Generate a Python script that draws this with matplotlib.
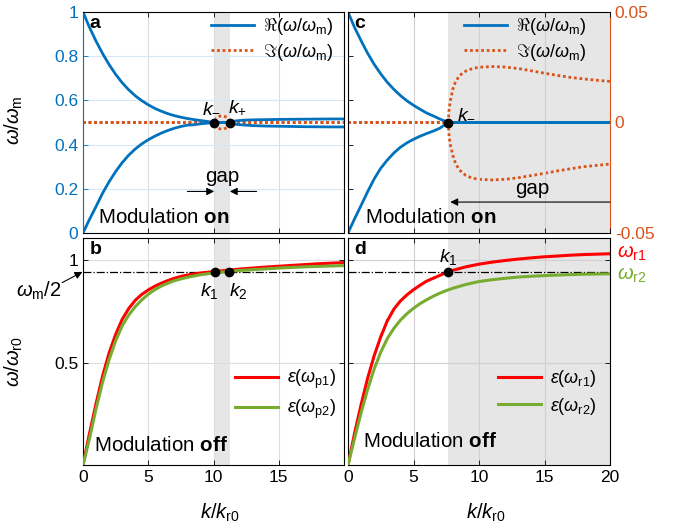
import matplotlib
matplotlib.use('Agg')
import matplotlib.pyplot as plt

plt.rcParams.update({
    'font.family': ['Liberation Sans', 'DejaVu Sans'],
    'mathtext.fontset': 'custom',
    'mathtext.rm': 'Liberation Sans',
    'mathtext.it': 'Liberation Sans:italic',
    'mathtext.bf': 'Liberation Sans:bold',
    'mathtext.sf': 'Liberation Sans',
    'mathtext.fallback': 'cm',
})

BLUE = '#0072BD'
ORANGE = '#D95319'
RED = '#FF0000'
GREEN = '#77AC30'
SHADE = '#E6E6E6'

# ---------------- data ----------------
# panel a (modulation on, gap between k- and k+)
k_a = [0, 0.5, 1.0, 1.5, 2.0, 2.5, 3.0, 3.5, 4.0, 4.5, 5.0, 5.5, 6.0, 6.5, 7.0, 7.5, 8.0, 8.5, 9.0, 9.5, 10.05,
       11.25, 11.4, 11.7, 12.0, 12.5, 13, 14, 15, 16, 17, 18, 19, 20]
re_a_up = [1.0, 0.93, 0.868, 0.812, 0.762, 0.718, 0.68, 0.648, 0.621, 0.599, 0.58, 0.564, 0.551, 0.54, 0.531,
           0.524, 0.518, 0.513, 0.509, 0.505, 0.5,
           0.5, 0.504, 0.507, 0.509, 0.511, 0.512, 0.513, 0.514, 0.5145, 0.515, 0.5155, 0.516, 0.516]
re_a_lo = [0.0, 0.062, 0.12, 0.18, 0.232, 0.278, 0.318, 0.352, 0.38, 0.403, 0.422, 0.438, 0.452, 0.464, 0.474,
           0.482, 0.488, 0.49, 0.494, 0.497, 0.5,
           0.5, 0.496, 0.492, 0.490, 0.488, 0.486, 0.484, 0.483, 0.482, 0.481, 0.4805, 0.480, 0.48]
k_im_a = [0, 10.05, 10.15, 10.3, 10.5, 10.65, 10.8, 11.0, 11.15, 11.25, 20]
im_a_up = [0, 0, 0.0017, 0.0024, 0.0029, 0.003, 0.0029, 0.0024, 0.0017, 0, 0]
im_a_lo = [0, 0, -0.0017, -0.0024, -0.0029, -0.003, -0.0029, -0.0024, -0.0017, 0, 0]
k_marks_a = [10.05, 11.25]
re_marks_a = [0.5, 0.5]

# panel c (modulation on, gap from k- onward)
k_c = [0, 0.5, 1.0, 1.5, 2.0, 2.5, 3.0, 3.5, 4.0, 4.5, 5.0, 5.5, 6.0, 6.5, 7.0, 7.66, 20]
re_c_up = [1.0, 0.93, 0.87, 0.813, 0.763, 0.72, 0.682, 0.65, 0.622, 0.598, 0.578, 0.56, 0.543, 0.53, 0.516,
           0.5, 0.5]
re_c_lo = [0.0, 0.064, 0.125, 0.187, 0.245, 0.293, 0.33, 0.362, 0.388, 0.408, 0.424, 0.438, 0.45, 0.461, 0.474,
           0.5, 0.5]
k_im_c = [0, 7.66, 7.7, 7.8, 8.0, 8.2, 8.5, 9.0, 9.5, 10, 11, 12, 13, 14, 15, 16, 17, 18, 19, 20]
im_c_up = [0, 0, 0.005, 0.0095, 0.015, 0.0183, 0.0212, 0.0233, 0.0244, 0.025, 0.0253, 0.0251, 0.0244,
           0.0234, 0.0223, 0.0213, 0.0204, 0.0197, 0.0191, 0.0186]
im_c_lo = [0, 0, -0.005, -0.0098, -0.0148, -0.0184, -0.0215, -0.024, -0.0252, -0.0257, -0.026, -0.0257,
           -0.025, -0.024, -0.023, -0.0219, -0.0209, -0.02, -0.0194, -0.0188]
k_marks_c = [7.66]
re_marks_c = [0.5]

# panel b (modulation off)
k_b = [0, 0.5, 1.0, 1.5, 2.0, 2.5, 3.0, 3.5, 4.0, 4.5, 5.0, 5.5, 6.0, 6.5, 7.0, 7.5, 8, 9, 10, 11, 12, 13,
       14, 15, 16, 17, 18, 19, 20]
eps_p1 = [0, 0.155, 0.30, 0.435, 0.548, 0.638, 0.712, 0.765, 0.805, 0.834, 0.856, 0.874, 0.889, 0.902, 0.913,
          0.922, 0.929, 0.939, 0.9455, 0.952, 0.958, 0.963, 0.968, 0.972, 0.976, 0.98, 0.984, 0.987, 0.99]
eps_p2 = [0, 0.13, 0.275, 0.405, 0.515, 0.607, 0.68, 0.733, 0.774, 0.807, 0.835, 0.857, 0.875, 0.889, 0.901,
          0.91, 0.918, 0.93, 0.939, 0.9455, 0.951, 0.955, 0.959, 0.963, 0.966, 0.969, 0.971, 0.973, 0.975]
k_marks_b = [10.1, 11.2]
w_marks_b = [0.946, 0.946]

# panel d (modulation off)
k_d = [0, 0.5, 1.0, 1.5, 2.0, 2.5, 3.0, 3.5, 4.0, 4.5, 5.0, 5.5, 6.0, 6.5, 7.0, 7.5, 8, 9, 10, 11, 12, 13,
       14, 15, 16, 17, 18, 19, 20]
eps_r1 = [0, 0.155, 0.295, 0.425, 0.535, 0.627, 0.705, 0.762, 0.802, 0.832, 0.857, 0.879, 0.899, 0.913, 0.927,
          0.941, 0.952, 0.969, 0.982, 0.992, 1.0, 1.007, 1.013, 1.018, 1.022, 1.026, 1.029, 1.031, 1.033]
eps_r2 = [0, 0.13, 0.255, 0.37, 0.47, 0.552, 0.618, 0.668, 0.708, 0.74, 0.766, 0.789, 0.808, 0.825, 0.84,
          0.853, 0.864, 0.883, 0.897, 0.906, 0.913, 0.919, 0.923, 0.926, 0.929, 0.931, 0.933, 0.934, 0.935]
k_marks_d = [7.66]
w_marks_d = [0.946]

half_wm = 0.946
gap_a = (10.05, 11.25)
gap_c = (7.66, 20)

xticks = [0, 5, 10, 15, 20]
yticks_a = [0, 0.2, 0.4, 0.6, 0.8, 1]
yticklabels_a = ['0', '0.2', '0.4', '0.6', '0.8', '1']
yticks_c = [-0.05, 0, 0.05]
yticklabels_c = ['-0.05', '0', '0.05']
yticks_b = [0.5, 1]
yticklabels_b = ['0.5', '1']
xticklabels_b = ['0', '5', '10', '15', '']
xticklabels_d = ['0', '5', '10', '15', '20']

# ---------------- figure ----------------
W, H = 696, 531
fig = plt.figure(figsize=(W / 100, H / 100), dpi=100)


def px_axes(l, t, r, b):
    return fig.add_axes([l / W, 1 - b / H, (r - l) / W, (b - t) / H])


TS = 12.5   # tick size
FS = 14.8   # annotation text
ARROW = dict(arrowstyle='-|>', color='k', lw=0.8, mutation_scale=11, shrinkA=0, shrinkB=0)


def style(ax):
    ax.tick_params(direction='in', length=3.5, width=0.6, labelsize=TS, top=True, right=True)
    for s in ax.spines.values():
        s.set_linewidth(0.8)


# ---- panel a ----
axA = px_axes(83, 12, 344, 233)
axA2 = axA.twinx()
axA.set_zorder(axA2.get_zorder() + 1)
axA.patch.set_visible(False)
axA2.axvspan(*gap_a, color=SHADE, lw=0, zorder=0)
axA2.plot(k_im_a, im_a_up, ls=(0, (1, 1)), color=ORANGE, lw=2)
axA2.plot(k_im_a, im_a_lo, ls=(0, (1, 1)), color=ORANGE, lw=2)
axA2.set_ylim(-0.05, 0.05)
axA2.set_yticks([])
for s in axA2.spines.values():
    s.set_visible(False)
l1, = axA.plot(k_a, re_a_up, color=BLUE, lw=2)
axA.plot(k_a, re_a_lo, color=BLUE, lw=2)
axA.plot(k_marks_a, re_marks_a, 'o', color='k', ms=6, zorder=5)
axA.set_xlim(0, 20)
axA.set_ylim(0, 1)
axA.set_xticks(xticks)
axA.set_yticks(yticks_a)
axA.set_yticklabels(yticklabels_a)
style(axA)
axA.tick_params(axis='y', colors=BLUE, right=False)
axA.tick_params(labelbottom=False)
axA.spines['left'].set_color(BLUE)
axA.xaxis.grid(True, color='#DDDDDD', lw=0.8)
axA.yaxis.grid(True, color='#D6E8F5', lw=0.8)
axA.set_ylabel(r'$\omega/\omega_\mathrm{m}$', fontsize=14.5, color='k')
axA.yaxis.set_label_coords(-0.222, 0.51)
l2, = axA.plot([], [], ls=(0, (1, 1)), color=ORANGE, lw=2)
axA.legend([l1, l2], [r'$\Re(\omega/\omega_\mathrm{m})$', r'$\Im(\omega/\omega_\mathrm{m})$'],
           loc='upper right', bbox_to_anchor=(1.0, 1.03), frameon=False, fontsize=13,
           handlelength=2.4, handletextpad=0.5, labelspacing=0.25, borderaxespad=0.2)
axA.text(0.025, 0.985, 'a', transform=axA.transAxes, fontsize=14, fontweight='bold', va='top')
axA.text(9.1, 0.548, r'$k_{-}$', fontsize=14, va='baseline')
axA.text(11.1, 0.548, r'$k_{+}$', fontsize=14, va='baseline')
axA.text(10.65, 0.255, 'gap', fontsize=FS, ha='center', va='center')
axA.annotate('', xy=(gap_a[0], 0.188), xytext=(8.0, 0.188), arrowprops=ARROW)
axA.annotate('', xy=(gap_a[1], 0.188), xytext=(13.3, 0.188), arrowprops=ARROW)
axA.text(1.15, 0.072, r'Modulation $\mathbf{on}$', fontsize=FS, va='center')

# ---- panel c ----
axC = px_axes(348, 12, 610, 233)
axC2 = axC.twinx()
axC.set_zorder(axC2.get_zorder() + 1)
axC.patch.set_visible(False)
axC2.axvspan(*gap_c, color=SHADE, lw=0, zorder=0)
axC2.plot(k_im_c, im_c_up, ls=(0, (1, 1)), color=ORANGE, lw=2)
axC2.plot(k_im_c, im_c_lo, ls=(0, (1, 1)), color=ORANGE, lw=2)
axC2.set_ylim(-0.05, 0.05)
axC2.set_yticks(yticks_c)
axC2.set_yticklabels(yticklabels_c)
axC2.tick_params(axis='y', direction='in', length=3.5, width=0.6, colors=ORANGE, labelsize=TS)
for s in ['left', 'top', 'bottom']:
    axC2.spines[s].set_visible(False)
axC2.spines['right'].set_color(ORANGE)
axC2.spines['right'].set_linewidth(0.8)
c1, = axC.plot(k_c, re_c_up, color=BLUE, lw=2)
axC.plot(k_c, re_c_lo, color=BLUE, lw=2)
axC.plot(k_marks_c, re_marks_c, 'o', color='k', ms=6, zorder=5)
axC.set_xlim(0, 20)
axC.set_ylim(0, 1)
axC.set_xticks(xticks)
axC.set_yticks(yticks_a)
style(axC)
axC.tick_params(labelbottom=False, labelleft=False, right=False)
axC.spines['right'].set_visible(False)
axC.xaxis.grid(True, color='#D0D0D0', lw=0.8)
c2, = axC.plot([], [], ls=(0, (1, 1)), color=ORANGE, lw=2)
axC.legend([c1, c2], [r'$\Re(\omega/\omega_\mathrm{m})$', r'$\Im(\omega/\omega_\mathrm{m})$'],
           loc='upper right', bbox_to_anchor=(0.95, 1.03), frameon=False, fontsize=13,
           handlelength=2.4, handletextpad=0.5, labelspacing=0.25, borderaxespad=0.2)
axC.text(0.025, 0.985, 'c', transform=axC.transAxes, fontsize=14, fontweight='bold', va='top')
axC.text(8.3, 0.519, r'$k_{-}$', fontsize=14, va='baseline')
axC.text(14.1, 0.2, 'gap', fontsize=FS, ha='center', va='center')
axC.annotate('', xy=(gap_c[0] + 0.15, 0.14), xytext=(20, 0.14), arrowprops=ARROW)
axC.text(1.3, 0.072, r'Modulation $\mathbf{on}$', fontsize=FS, va='center')

# ---- panel b ----
axB = px_axes(83, 238, 344, 465)
axB.axvspan(*gap_a, color=SHADE, lw=0, zorder=0)
axB.axhline(half_wm, color='k', ls='-.', lw=0.9, zorder=2)
b1, = axB.plot(k_b, eps_p1, color=RED, lw=2.2, zorder=3)
b2, = axB.plot(k_b, eps_p2, color=GREEN, lw=2.2, zorder=3)
axB.plot(k_marks_b, w_marks_b, 'o', color='k', ms=6, zorder=5)
axB.set_xlim(0, 20)
axB.set_ylim(0, 1.11)
axB.set_xticks(xticks)
axB.set_xticklabels(xticklabels_b)
axB.set_yticks(yticks_b)
axB.set_yticklabels(yticklabels_b)
style(axB)
axB.grid(True, color='#DDDDDD', lw=0.8)
axB.set_axisbelow(True)
axB.set_ylabel(r'$\omega/\omega_\mathrm{r0}$', fontsize=14.5)
axB.yaxis.set_label_coords(-0.222, 0.455)
axB.set_xlabel(r'$k/k_\mathrm{r0}$', fontsize=14.5)
axB.xaxis.set_label_coords(0.525, -0.16)
axB.legend([b1, b2], [r'$\epsilon(\omega_\mathrm{p1})$', r'$\epsilon(\omega_\mathrm{p2})$'],
           loc='center left', bbox_to_anchor=(0.52, 0.31), frameon=False, fontsize=13,
           handlelength=2.4, handletextpad=0.5, labelspacing=0.35)
axB.text(0.025, 0.985, 'b', transform=axB.transAxes, fontsize=14, fontweight='bold', va='top')
axB.text(8.97, 0.824, r'$k_1$', fontsize=14, va='baseline')
axB.text(11.16, 0.824, r'$k_2$', fontsize=14, va='baseline')
axB.text(0.85, 0.097, r'Modulation $\mathbf{off}$', fontsize=FS, va='center')
axB.annotate(r'$\omega_\mathrm{m}$/2', xy=(0, half_wm), xycoords='data',
             xytext=(-32, -14), textcoords='offset points', fontsize=14.5, ha='center', va='center',
             annotation_clip=False)
axB.annotate('', xy=(0, half_wm), xycoords='data',
             xytext=(-15, -8), textcoords='offset points', annotation_clip=False,
             arrowprops=dict(arrowstyle='-|>', color='k', lw=0.8, mutation_scale=11, shrinkA=0, shrinkB=0.5))

# ---- panel d ----
axD = px_axes(348, 238, 610, 465)
axD.axvspan(*gap_c, color=SHADE, lw=0, zorder=0)
axD.axhline(half_wm, color='k', ls='-.', lw=0.9, zorder=2)
d1, = axD.plot(k_d, eps_r1, color=RED, lw=2.2, zorder=3)
d2, = axD.plot(k_d, eps_r2, color=GREEN, lw=2.2, zorder=3)
axD.plot(k_marks_d, w_marks_d, 'o', color='k', ms=6, zorder=5)
axD.set_xlim(0, 20)
axD.set_ylim(0, 1.11)
axD.set_xticks(xticks)
axD.set_xticklabels(xticklabels_d)
axD.set_yticks(yticks_b)
style(axD)
axD.tick_params(labelleft=False)
axD.grid(True, color='#D0D0D0', lw=0.8)
axD.set_axisbelow(True)
axD.set_xlabel(r'$k/k_\mathrm{r0}$', fontsize=14.5)
axD.xaxis.set_label_coords(0.527, -0.16)
axD.legend([d1, d2], [r'$\epsilon(\omega_\mathrm{r1})$', r'$\epsilon(\omega_\mathrm{r2})$'],
           loc='center left', bbox_to_anchor=(0.51, 0.32), frameon=False, fontsize=13,
           handlelength=2.4, handletextpad=0.5, labelspacing=0.35)
axD.text(0.025, 0.985, 'd', transform=axD.transAxes, fontsize=14, fontweight='bold', va='top')
axD.text(6.95, 0.995, r'$k_1$', fontsize=14, va='baseline')
axD.text(1.15, 0.113, r'Modulation $\mathbf{off}$', fontsize=FS, va='center')
axD.text(20.5, eps_r1[-1], r'$\omega_\mathrm{r1}$', color=RED, fontsize=14.5, va='center', clip_on=False)
axD.text(20.5, eps_r2[-1] - 0.01, r'$\omega_\mathrm{r2}$', color=GREEN, fontsize=14.5, va='center', clip_on=False)

fig.savefig('out.png', dpi=100, facecolor='white')
